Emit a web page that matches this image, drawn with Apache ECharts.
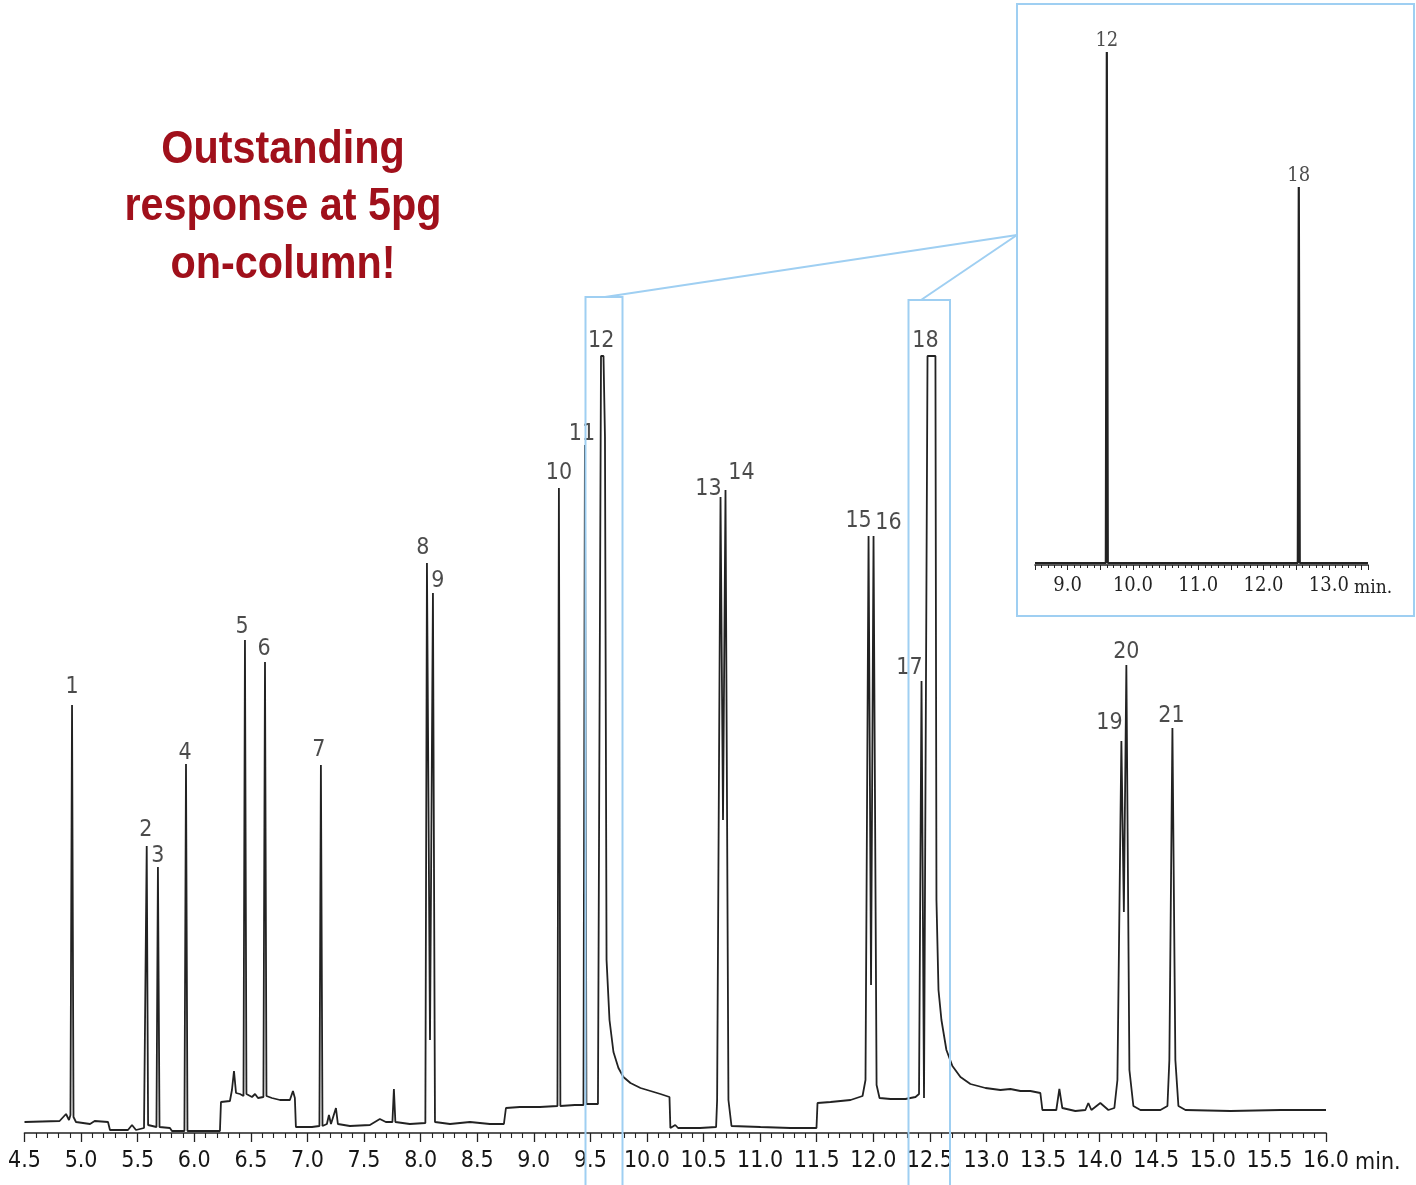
<!DOCTYPE html>
<html>
<head>
<meta charset="utf-8">
<script src="https://cdn.jsdelivr.net/npm/echarts@6/dist/echarts.min.js"></script>
<style>
html, body { margin: 0; background: #fff; }
#chart { width: 1416px; height: 1185px; }
</style>
</head>
<body>
<div id="chart"></div>
<script>
// main chromatogram: [retention time (min), response]
const trace = [
    [4.50, 11], [4.81, 12], [4.867, 19], [4.893, 13], [4.906, 18], [4.920, 428], [4.933, 16], [4.955, 11],
    [5.079, 9], [5.12, 12], [5.238, 11], [5.255, 3], [5.414, 3], [5.45, 8], [5.485, 3], [5.556, 5],
    [5.569, 6], [5.580, 287], [5.592, 8], [5.609, 7], [5.666, 6], [5.679, 266], [5.693, 6], [5.785, 5],
    [5.803, 2], [5.913, 2], [5.927, 369], [5.940, 2], [6.227, 2], [6.236, 31], [6.315, 32], [6.333, 43],
    [6.351, 62], [6.369, 40], [6.404, 39], [6.435, 37], [6.448, 493], [6.461, 39], [6.510, 36], [6.537, 39],
    [6.563, 35], [6.611, 36], [6.625, 471], [6.638, 37], [6.686, 35], [6.757, 33], [6.845, 33], [6.872, 42],
    [6.889, 35], [6.898, 6], [7.040, 6], [7.106, 7], [7.119, 368], [7.133, 7], [7.172, 9], [7.190, 18],
    [7.208, 9], [7.252, 25], [7.269, 9], [7.375, 7], [7.552, 8], [7.640, 14], [7.693, 11], [7.751, 11],
    [7.764, 44], [7.777, 11], [7.905, 9], [8.042, 10], [8.056, 570], [8.083, 93], [8.109, 540], [8.127, 11],
    [8.260, 9], [8.436, 11], [8.612, 9], [8.736, 9], [8.754, 25], [8.877, 26], [9.054, 26], [9.209, 27],
    [9.222, 645], [9.235, 27], [9.363, 28], [9.439, 28], [9.452, 688], [9.465, 29], [9.567, 29], [9.594, 777],
    [9.616, 777], [9.629, 696], [9.643, 173], [9.669, 113], [9.704, 81], [9.748, 65], [9.792, 56], [9.854, 50],
    [9.943, 45], [10.031, 42], [10.119, 39], [10.199, 36], [10.207, 5], [10.25, 8], [10.275, 5], [10.469, 5],
    [10.611, 6], [10.620, 33], [10.650, 636], [10.672, 313], [10.694, 643], [10.720, 33], [10.747, 7], [11.003, 6],
    [11.268, 5], [11.498, 5], [11.507, 30], [11.622, 31], [11.799, 33], [11.905, 37], [11.931, 53], [11.958, 597],
    [11.980, 148], [12.002, 597], [12.029, 48], [12.055, 35], [12.152, 34], [12.284, 34], [12.373, 36], [12.404, 39],
    [12.426, 452], [12.448, 35], [12.461, 36], [12.479, 777], [12.549, 777], [12.558, 233], [12.576, 143], [12.602, 113],
    [12.646, 83], [12.699, 67], [12.770, 56], [12.858, 49], [12.991, 45], [13.123, 43], [13.211, 44], [13.300, 42],
    [13.388, 42], [13.476, 40], [13.494, 23], [13.617, 23], [13.644, 44], [13.670, 25], [13.785, 22], [13.874, 23],
    [13.900, 30], [13.927, 23], [14.006, 30], [14.077, 23], [14.130, 25], [14.157, 53], [14.192, 392], [14.214, 221],
    [14.236, 468], [14.263, 63], [14.298, 27], [14.360, 23], [14.537, 23], [14.599, 27], [14.616, 73], [14.643, 405],
    [14.669, 73], [14.696, 27], [14.758, 23], [15.156, 22], [15.598, 23], [16.0, 23]
]

const peakNames = ['1', '2', '3', '4', '5', '6', '7', '8', '9', '10', '11', '12', '13', '14', '15', '16', '17', '18', '19', '20', '21']
const peakTime = [4.920, 5.580, 5.679, 5.927, 6.448, 6.625, 7.119, 8.056, 8.109, 9.222, 9.452, 9.605, 10.650, 10.694, 11.958, 12.002, 12.426, 12.514, 14.192, 14.236, 14.643]
const peakSignal = [428, 287, 266, 369, 493, 471, 368, 570, 540, 645, 688, 777, 636, 643, 597, 597, 452, 777, 392, 468, 405]

// inset (5pg on-column)
const insetTrace = [
    [8.5, 2], [9.0, 2], [9.38, 2], [9.40, 4], [9.42, 2], [9.585, 2], [9.60, 513], [9.615, 2],
    [10.68, 2], [10.70, 4], [10.72, 2], [11.98, 2], [12.0, 4], [12.02, 2], [12.525, 2], [12.54, 378],
    [12.555, 2], [13.6, 2]
]
const insetPeakNames = ['12', '18']
const insetPeakTime = [9.60, 12.54]
const insetPeakSignal = [513, 378]

// label nudges [dx, dy] so numbers sit like the original
const labelShift = {
    '1': [0, -3], '2': [-1, -1], '3': [0, 4], '4': [-1, 4], '5': [-3, 2], '6': [-1, 2], '7': [-2, 0],
    '8': [-4, 0], '9': [5, 3], '11': [-3, 4], '12': [-1, 0], '13': [-12, 7], '14': [16, -2],
    '15': [-10, 0], '16': [15, 2], '17': [-12, 2], '18': [-6, 0], '19': [-12, -3], '20': [0, 2], '21': [-1, 3]
}

const AXIS_FONT = '"DejaVu Sans Condensed", sans-serif'
const INSET_FONT = '"DejaVu Serif Condensed", "DejaVu Serif", serif'
const BLUE = '#9fcff2'

const chart = echarts.init(document.getElementById('chart'))

const peakData = peakNames.map((name, i) => {
    const shift = labelShift[name] || [0, 0]
    return {
        name,
        value: [peakTime[i], peakSignal[i]],
        label: { offset: shift }
    }
})

const insetPeakData = insetPeakNames.map((name, i) => ({
    name,
    value: [insetPeakTime[i], insetPeakSignal[i]]
}))

const titleLines = ['Outstanding', 'response at 5pg', 'on-column!']

chart.setOption({
    animation: false,
    backgroundColor: '#fff',
    grid: [{
        left: 24.5,
        right: 90,
        top: 133,
        bottom: 52
    }, {
        left: 1035,
        right: 48,
        top: 15,
        bottom: 620
    }],
    xAxis: [{
        type: 'value',
        gridIndex: 0,
        min: 4.5,
        max: 16.0,
        interval: 0.5,
        axisLine: { lineStyle: { color: '#222', width: 1.6 } },
        axisTick: { length: 9, lineStyle: { color: '#222', width: 1.3 } },
        minorTick: { show: true, splitNumber: 5, length: 5, lineStyle: { color: '#222', width: 1.1 } },
        splitLine: { show: false },
        axisLabel: {
            color: '#161616',
            fontFamily: AXIS_FONT,
            fontSize: 23,
            margin: 17,
            formatter: v => v.toFixed(1)
        }
    }, {
        type: 'value',
        gridIndex: 1,
        min: 8.5,
        max: 13.6,
        interval: 0.5,
        axisLine: { lineStyle: { color: '#222', width: 1.6 } },
        axisTick: { length: 5, lineStyle: { color: '#222', width: 1 } },
        minorTick: { show: true, splitNumber: 5, length: 3, lineStyle: { color: '#222', width: 1 } },
        splitLine: { show: false },
        axisLabel: {
            color: '#222',
            fontFamily: INSET_FONT,
            fontSize: 20,
            margin: 11,
            formatter: v => (Math.abs(v - Math.round(v)) < 1e-6 ? v.toFixed(1) : '')
        }
    }],
    yAxis: [{
        type: 'value',
        gridIndex: 0,
        min: 0,
        max: 1000,
        show: false
    }, {
        type: 'value',
        gridIndex: 1,
        min: 0,
        max: 550,
        show: false
    }],
    series: [{
        type: 'line',
        xAxisIndex: 0,
        yAxisIndex: 0,
        data: trace,
        symbol: 'none',
        lineStyle: { color: '#222', width: 1.8 }
    }, {
        type: 'scatter',
        xAxisIndex: 0,
        yAxisIndex: 0,
        data: peakData,
        symbolSize: 0,
        silent: true,
        label: {
            show: true,
            position: 'top',
            distance: 3,
            formatter: p => p.name,
            color: '#1e1e1e',
            fontFamily: AXIS_FONT,
            fontSize: 23
        }
    }, {
        type: 'line',
        xAxisIndex: 1,
        yAxisIndex: 1,
        data: insetTrace,
        symbol: 'none',
        lineStyle: { color: '#222', width: 2.2 }
    }, {
        type: 'scatter',
        xAxisIndex: 1,
        yAxisIndex: 1,
        data: insetPeakData,
        symbolSize: 0,
        silent: true,
        label: {
            show: true,
            position: 'top',
            distance: 1,
            formatter: p => p.name,
            color: '#222',
            fontFamily: INSET_FONT,
            fontSize: 20
        }
    }],
    graphic: [
        ...titleLines.map((text, i) => ({
            type: 'text',
            x: 283,
            y: 150 + i * 57.5,
            scaleX: 0.88,
            z: 50,
            style: {
                text,
                fill: '#a0101b',
                font: 'bold 47px "Liberation Sans", sans-serif',
                textAlign: 'center',
                textVerticalAlign: 'middle'
            }
        })),
        {
            type: 'text', x: 1355, y: 1163, z: 50,
            style: { text: 'min.', fill: '#161616', font: '23px ' + AXIS_FONT, textAlign: 'left', textVerticalAlign: 'middle' }
        },
        {
            type: 'text', x: 1354, y: 588, z: 50,
            style: { text: 'min.', fill: '#222', font: '19px ' + INSET_FONT, textAlign: 'left', textVerticalAlign: 'middle' }
        },
        {
            type: 'rect', z: 100, silent: true,
            shape: { x: 1017, y: 4, width: 397, height: 612 },
            style: { fill: 'none', stroke: BLUE, lineWidth: 2 }
        },
        {
            type: 'rect', z: 100, silent: true,
            shape: { x: 585.5, y: 297, width: 37, height: 900 },
            style: { fill: 'none', stroke: BLUE, lineWidth: 2 }
        },
        {
            type: 'rect', z: 100, silent: true,
            shape: { x: 908.5, y: 300, width: 41.5, height: 900 },
            style: { fill: 'none', stroke: BLUE, lineWidth: 2 }
        },
        {
            type: 'line', z: 100, silent: true,
            shape: { x1: 605, y1: 297, x2: 1017, y2: 235 },
            style: { stroke: BLUE, lineWidth: 2 }
        },
        {
            type: 'line', z: 100, silent: true,
            shape: { x1: 921, y1: 300, x2: 1017, y2: 235 },
            style: { stroke: BLUE, lineWidth: 2 }
        }
    ]
})
</script>
</body>
</html>
